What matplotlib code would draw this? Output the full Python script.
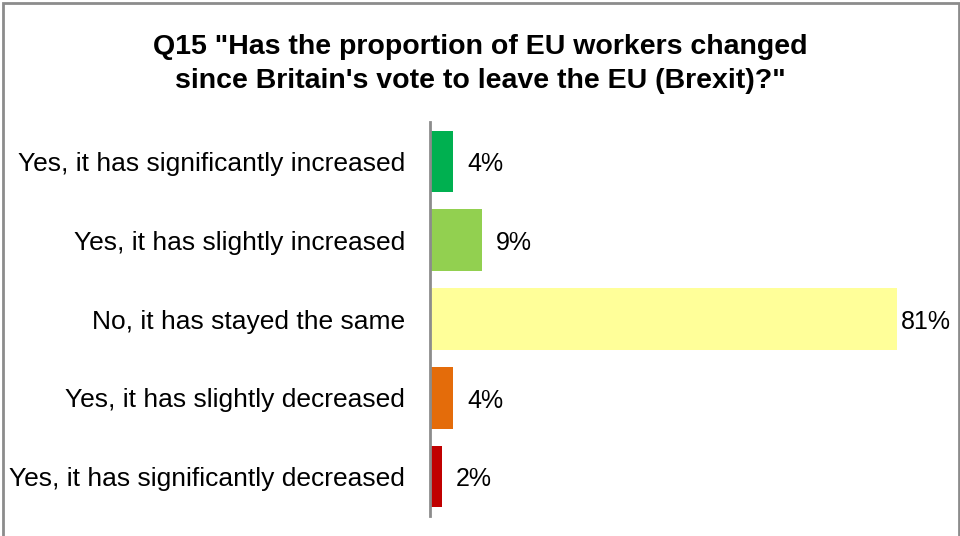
import matplotlib.pyplot as plt
from matplotlib.patches import Rectangle

plt.rcParams['font.family'] = ['Liberation Sans', 'DejaVu Sans']

respostas = [
    'Yes, it has significantly increased',
    'Yes, it has slightly increased',
    'No, it has stayed the same',
    'Yes, it has slightly decreased',
    'Yes, it has significantly decreased',
]
percentuais = [4, 9, 81, 4, 2]
cores = ['#00B050', '#92D050', '#FFFF99', '#E46C0A', '#C00000']
titulo = 'Q15 "Has the proportion of EU workers changed\nsince Britain\'s vote to leave the EU (Brexit)?"'

fig = plt.figure(figsize=(9.6, 5.36), dpi=100)
ax = fig.add_axes([430 / 960, 1 - 516 / 536, 500 / 960, 394 / 536])

y = range(len(respostas))
barras = ax.barh(y, percentuais, height=0.78, color=cores)

ax.set_ylim(len(respostas) - 0.5, -0.5)
ax.set_xlim(0, 86.7)
ax.set_yticks(list(y))
ax.set_yticklabels(respostas, fontsize=19)
ax.tick_params(axis='y', length=0, pad=18)
ax.set_xticks([])

for lado in ['top', 'right', 'bottom']:
    ax.spines[lado].set_visible(False)
ax.spines['left'].set_color('#8c8c8c')
ax.spines['left'].set_linewidth(2)

# rótulos de valor, o maior fica mais colado na barra
maior = max(percentuais)
for b, v in zip(barras, percentuais):
    ax.annotate(f'{v}%', (b.get_width(), b.get_y() + b.get_height() / 2),
                xytext=(3 if v == maior else 10, -2), textcoords='offset points',
                va='center', ha='left', fontsize=18)

fig.text(0.5, 1 - 64 / 536, titulo, ha='center', va='center',
         fontsize=20.5, fontweight='bold', linespacing=1.4)

# moldura cinza do gráfico
fig.patches.append(Rectangle((3 / 960, -0.05), 956 / 960, 1.05 - 3 / 536,
                             transform=fig.transFigure, fill=False,
                             edgecolor='#8c8c8c', linewidth=2))

fig.savefig('out.png', dpi=100)
